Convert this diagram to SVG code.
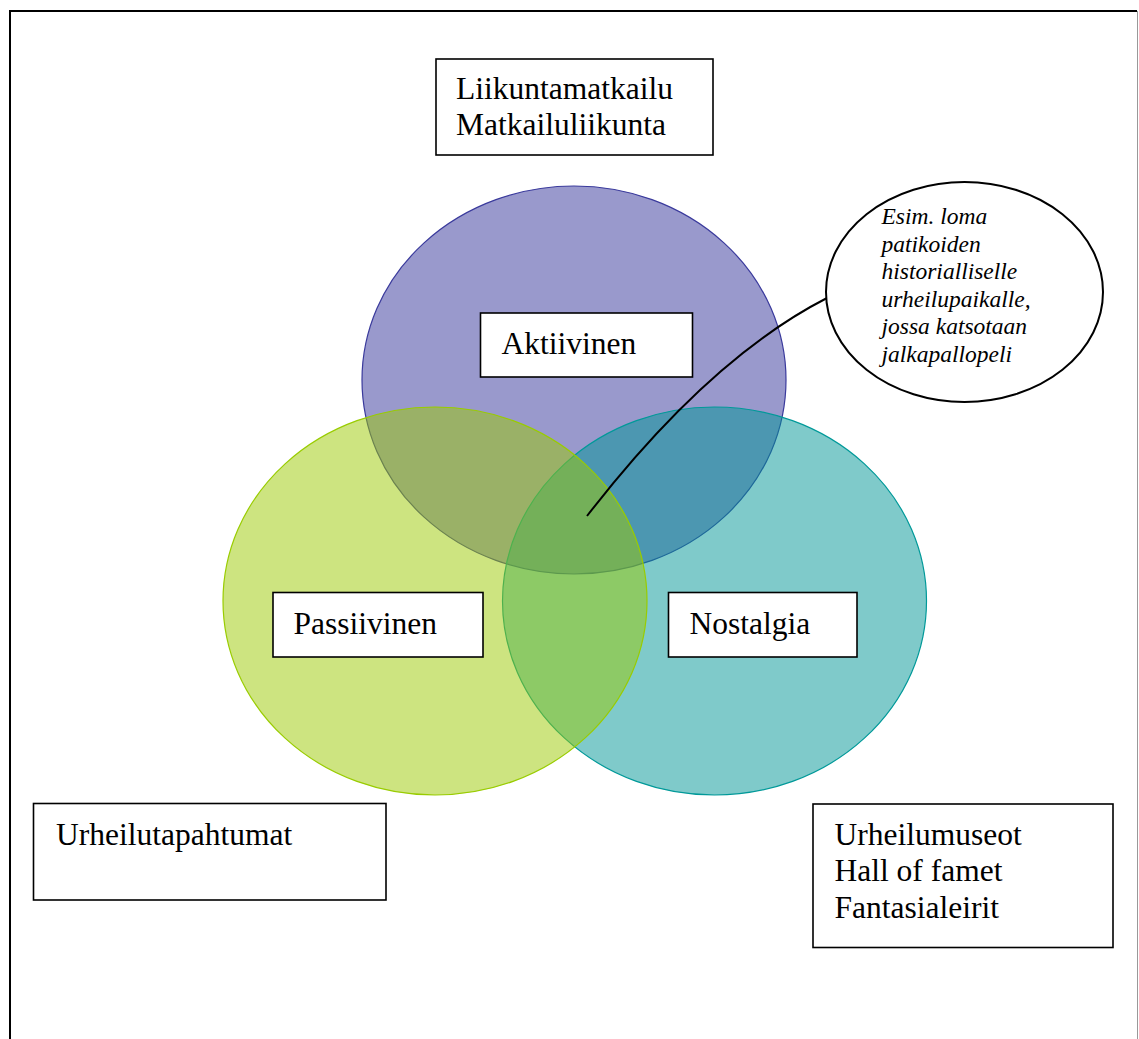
<svg xmlns="http://www.w3.org/2000/svg" width="1139" height="1039" viewBox="0 0 1139 1039">
<style>
.box{fill:#fff;stroke:#000;stroke-width:1.6}
.t{font-family:"Liberation Serif","Times New Roman",serif;font-size:31.5px;fill:#000}
.it{font-family:"Liberation Serif",serif;font-size:23.5px;font-style:italic;fill:#000}
.venn{fill-opacity:0.5;stroke-width:1.2}
</style>
<rect width="1139" height="1039" fill="#fff"/>
<g id="frame">
<line x1="9" y1="11" x2="1137" y2="11" stroke="#000" stroke-width="2"/>
<line x1="10" y1="10" x2="10" y2="1039" stroke="#000" stroke-width="2"/>
<line x1="1137.5" y1="11" x2="1137.5" y2="1039" stroke="#999" stroke-width="1"/>
</g>
<g id="circle-aktiivinen"><ellipse class="venn" cx="574" cy="380" rx="212" ry="194" fill="#333399" stroke="#3a3a9c"/></g>
<g id="circle-nostalgia"><ellipse class="venn" cx="714.5" cy="601" rx="212" ry="194" fill="#009595" stroke="#009999"/></g>
<g id="circle-passiivinen"><ellipse class="venn" cx="435" cy="601" rx="212" ry="194" fill="#9bc901" stroke="#99cc00"/></g>
<g id="connectors">
<path d="M827,298 C745,340 665,415 587,516" fill="none" stroke="#000" stroke-width="2"/>
</g>
<g id="box-liikuntamatkailu">
<rect class="box" x="436" y="59" width="277" height="96"/>
<text class="t" x="456" y="99">Liikuntamatkailu</text>
<text class="t" x="456" y="135">Matkailuliikunta</text>
</g>
<g id="box-aktiivinen">
<rect class="box" x="480.5" y="313" width="212" height="64"/>
<text class="t" x="501.5" y="354">Aktiivinen</text>
</g>
<g id="box-passiivinen">
<rect class="box" x="273" y="592.5" width="210" height="64.5"/>
<text class="t" x="293.5" y="633.5">Passiivinen</text>
</g>
<g id="box-nostalgia">
<rect class="box" x="668.5" y="592.5" width="188.5" height="64.5"/>
<text class="t" x="689.5" y="633.5">Nostalgia</text>
</g>
<g id="box-urheilutapahtumat">
<rect class="box" x="33.5" y="803.5" width="352.5" height="96.5"/>
<text class="t" x="56" y="845">Urheilutapahtumat</text>
</g>
<g id="box-urheilumuseot">
<rect class="box" x="813" y="804" width="300" height="143.5"/>
<text class="t" x="834.5" y="844.5">Urheilumuseot</text>
<text class="t" x="834.5" y="881">Hall of famet</text>
<text class="t" x="834.5" y="917.5">Fantasialeirit</text>
</g>
<g id="callout">
<ellipse cx="964.5" cy="292" rx="138.5" ry="110" fill="#fff" stroke="#000" stroke-width="2"/>
<text class="it" x="881.5" y="224">Esim. loma</text>
<text class="it" x="881.5" y="251.5">patikoiden</text>
<text class="it" x="881.5" y="279">historialliselle</text>
<text class="it" x="881.5" y="306.5">urheilupaikalle,</text>
<text class="it" x="881.5" y="334">jossa katsotaan</text>
<text class="it" x="881.5" y="361.5">jalkapallopeli</text>
</g>
</svg>
